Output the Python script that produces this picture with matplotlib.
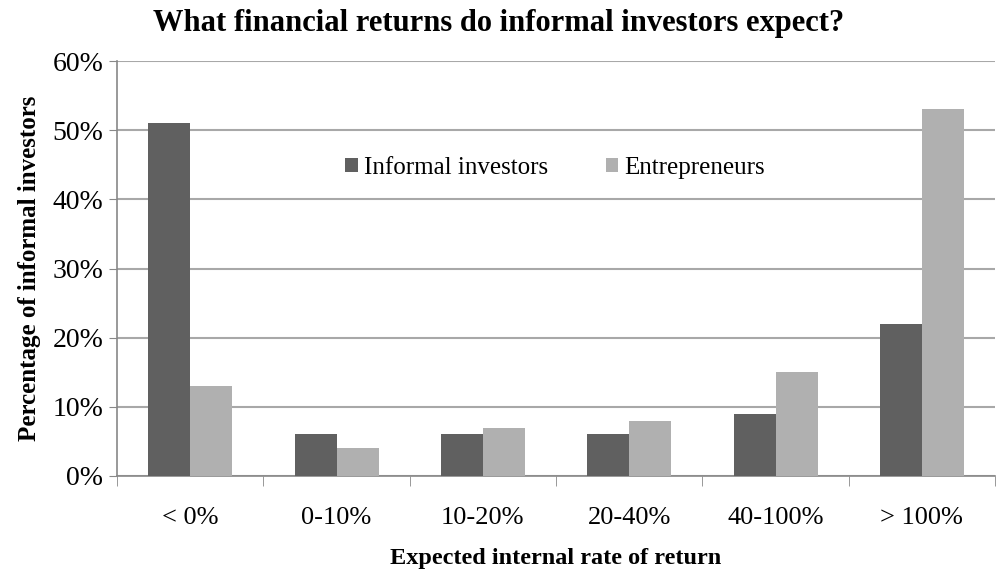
import numpy as np
import matplotlib.pyplot as plt
from matplotlib.ticker import FuncFormatter

categories = ["< 0%", "0-10%", "10-20%", "20-40%", "40-100%", "> 100%"]
informal = [51, 6, 6, 6, 9, 22]
entrepreneurs = [13, 4, 7, 8, 15, 53]

plt.rcParams['font.family'] = ['Liberation Serif', 'DejaVu Serif']

fig = plt.figure(figsize=(9.97, 5.73), dpi=100)
ax = fig.add_axes([0.1174, 0.1693, 0.8806, 0.7242])

x = np.arange(len(categories))
w = 0.287
ax.bar(x - w/2, informal, w, color='#606060', label='Informal investors', zorder=3)
ax.bar(x + w/2, entrepreneurs, w, color='#b0b0b0', label='Entrepreneurs', zorder=3)

ax.set_xlim(-0.5, len(categories) - 0.5)
ax.set_ylim(0, 60)
ax.set_yticks(np.arange(0, 61, 10))
ax.yaxis.set_major_formatter(FuncFormatter(lambda v, p: f"{v:.0f}%"))
ax.grid(axis='y', color='#a8a8a8', linewidth=1.5, zorder=0)

ax.set_xticks(x)
ax.set_xticklabels(categories)
ax.set_xticks(np.arange(-0.5, len(categories)), minor=True)
ax.tick_params(axis='x', which='major', length=0, pad=22, labelsize=19)
ax.tick_params(axis='x', which='minor', length=7, color='#888888', direction='out')
ax.tick_params(axis='y', length=6, color='#888888', labelsize=20, pad=4)

for s in ['top', 'right']:
    ax.spines[s].set_visible(False)
for s in ['left', 'bottom']:
    ax.spines[s].set_color('#888888')
    ax.spines[s].set_linewidth(1.2)

ax.set_xlabel("Expected internal rate of return", fontsize=17.5, fontweight='bold', labelpad=14)
ax.set_ylabel("Percentage of informal investors", fontsize=18, fontweight='bold', labelpad=8)
fig.suptitle("What financial returns do informal investors expect?", x=0.5, y=0.985,
             fontsize=22, fontweight='bold')

ax.legend(loc='center', bbox_to_anchor=(0.499, 0.742), ncol=2, frameon=False,
          fontsize=18, handlelength=0.5, handleheight=0.5, handletextpad=0.25,
          columnspacing=2.3)

fig.savefig("out.png", dpi=100)
